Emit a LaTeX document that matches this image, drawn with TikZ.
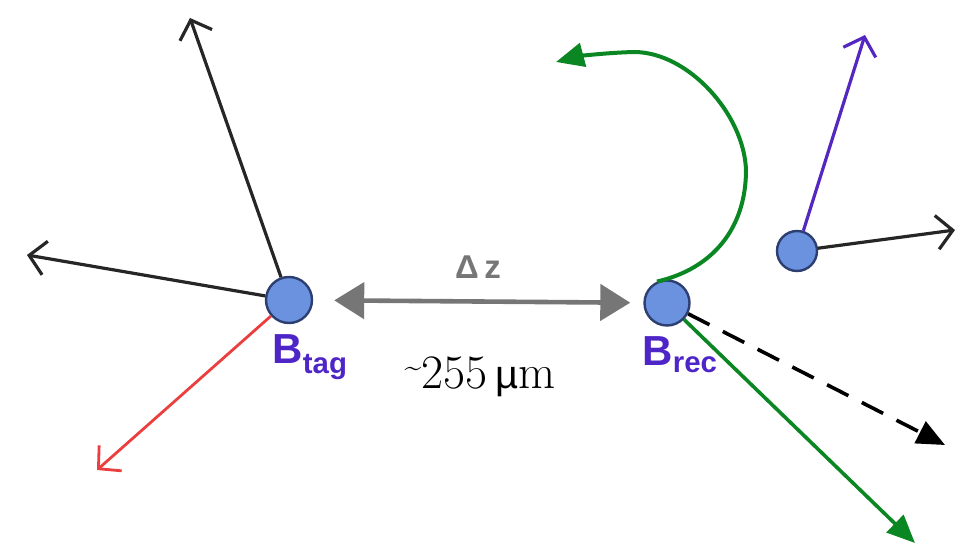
\documentclass[tikz,border=0pt]{standalone}
\usepackage{fontspec}
\setsansfont{Liberation Sans}
\usetikzlibrary{positioning,arrows.meta,calc}
\definecolor{vtxfill}{RGB}{106,146,222}
\definecolor{vtxedge}{RGB}{45,62,112}
\definecolor{lblpurple}{RGB}{78,38,200}
\definecolor{dzgray}{RGB}{118,118,118}
\definecolor{trkgreen}{RGB}{10,135,35}
\definecolor{trkred}{RGB}{235,62,62}
\definecolor{trkpurple}{RGB}{84,40,192}
\tikzset{
  vtx/.style  ={circle, draw=vtxedge, fill=vtxfill, line width=2.4pt, minimum size=46pt, inner sep=0pt},
  blab/.style ={font=\fontsize{42}{42}\selectfont\sffamily\bfseries, text=lblpurple},
  trk/.style  ={-{Straight Barb[length=16pt,width=34pt]}, line width=3.2pt},
  trkf/.style ={-{Triangle[length=28pt,width=24pt]}, line width=3.6pt},
  dz/.style   ={{Triangle[length=30pt,width=36pt]}-{Triangle[length=30pt,width=36pt]}, line width=4.6pt, draw=dzgray},
}
\begin{document}
\begin{tikzpicture}[x=1pt,y=1pt]
\useasboundingbox (0,0) rectangle (969,549);
% vertices
\node[vtx] (btag) at (289,249) {};
\node[vtx, minimum size=45pt] (brec) at (667,246) {};
\node[vtx, minimum size=40pt] (bsec) at (797,298) {};
% free ends of the tracks
\coordinate (t1) at (190,531);
\coordinate (t2) at (27,294);
\coordinate (t3) at (97,79);
\coordinate (s1) at (865,514);
\coordinate (s2) at (955,319);
\coordinate (r1) at (945,104);
\coordinate (r2) at (915,6);
\coordinate (ctop) at (634,497);
\coordinate (cright) at (746,379);
\coordinate (cend) at (556,487);
% tag side
\foreach \e in {t1,t2} \draw[trk, black!85] (btag) -- (\e);
\draw[trk, trkred, line width=2.8pt] (btag) -- (t3);
% second decay
\draw[trk, trkpurple] (bsec) -- (s1);
\draw[trk, black!85] (bsec) -- (s2);
% reco side
\draw[trkf, trkgreen] (brec) -- (r2);
\draw[trkf, black, dash pattern=on 24pt off 15pt] (brec) -- (r1);
\draw[trkf, trkgreen, line width=4pt] (brec.115) .. controls (712,280) and (746,320) .. (cright)
  .. controls (744,435) and (688,497) .. (ctop) .. controls (600,496) and (575,492) .. (cend);
% distance
\draw[dz, shorten <=21pt, shorten >=13pt] (btag) -- (brec);
\node[font=\fontsize{33}{33}\selectfont\sffamily\bfseries, text=dzgray] (dzl) at (478,282) {Δ\,z};
\node[font=\fontsize{48}{48}\selectfont] (dist) at (480,172) {\raisebox{12pt}{\fontsize{30}{30}\selectfont\textasciitilde}255\,{\sffamily\fontsize{40}{40}\selectfont µ}m};
% labels
\node[blab] (btagl) at (310,192) {B\textsubscript{tag}};
\node[blab] (brecl) at (680,194) {B\textsubscript{rec}};
\end{tikzpicture}
\end{document}
